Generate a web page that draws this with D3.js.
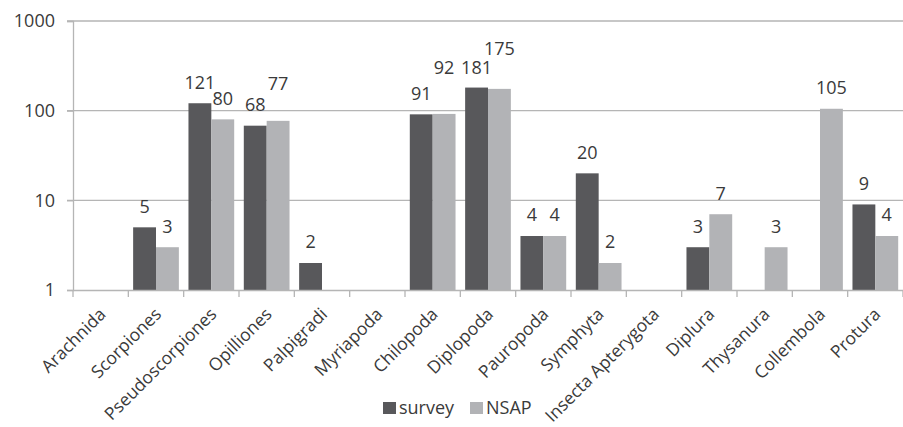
<!DOCTYPE html>
<html><head><meta charset="utf-8">
<script src="https://cdn.jsdelivr.net/npm/d3@7"></script>
<style>
html,body{margin:0;padding:0;background:#fff;}
svg text{font-family:"Open Sans",sans-serif;fill:#3a3a3a;}
</style></head>
<body>
<svg id="c" width="903" height="427"></svg>
<script>
const categories = ["Arachnida","Scorpiones","Pseudoscorpiones","Opilliones","Palpigradi","Myriapoda","Chilopoda","Diplopoda","Pauropoda","Symphyta","Insecta Apterygota","Diplura","Thysanura","Collembola","Protura"];
const survey = [null,5,121,68,2,null,91,181,4,20,null,3,null,null,9];
const nsap   = [null,3,80,77,null,null,92,175,4,2,null,7,3,105,4];
const seriesNames = ["survey","NSAP"];
const yTicks = [1,10,100,1000];

// label lift adjustments (style only, px above default)
const liftSurvey = {"Diplopoda":-1};
const liftNsap = {"Opilliones":16,"Chilopoda":25,"Diplopoda":19};

const svg = d3.select("#c");
const m = {l:73, r:903, t:21, b:290};
const colors = {survey:"#58585b", NSAP:"#b2b3b6"};
const gridCol = "#b5b5b5";

const x = d3.scaleBand().domain(categories).range([m.l, m.r]).paddingInner(0).paddingOuter(0);
const xs = d3.scaleBand().domain(seriesNames).range([0, x.bandwidth()]).paddingInner(0).paddingOuter(0.21);
const y = d3.scaleLog().domain([1,1000]).range([m.b, m.t]);

// gridlines
svg.append("g").selectAll("line").data(yTicks.filter(d=>d>1)).join("line")
  .attr("x1", m.l-6).attr("x2", m.r).attr("y1", d=>y(d)).attr("y2", d=>y(d))
  .attr("stroke", gridCol).attr("stroke-width",1.3);

// y axis
const yAxis = d3.axisLeft(y).tickValues(yTicks).tickFormat(d3.format("d")).tickSize(6).tickPadding(12);
const ga = svg.append("g").attr("transform",`translate(${m.l},0)`).call(yAxis);
ga.select(".domain").attr("stroke",gridCol).attr("stroke-width",1.3);
ga.selectAll(".tick line").attr("stroke",gridCol).attr("stroke-width",1.3);
ga.selectAll(".tick text").style("font-size","18px").attr("fill","#3a3a3a");

// bars
const rows = categories.map((c,i)=>({c, vals:[{s:"survey",v:survey[i]},{s:"NSAP",v:nsap[i]}]}));
const g = svg.append("g");
const grp = g.selectAll("g").data(rows).join("g").attr("transform",d=>`translate(${x(d.c)},0)`);
grp.selectAll("rect").data(d=>d.vals.filter(v=>v.v!=null)).join("rect")
  .attr("x",d=>xs(d.s)).attr("width",xs.bandwidth())
  .attr("y",d=>y(d.v)).attr("height",d=>y(1)-y(d.v))
  .attr("fill",d=>colors[d.s]);

// x axis
const xAxis = d3.axisBottom(x).tickSize(0).tickFormat("");
const gx = svg.append("g").attr("transform",`translate(0,${m.b})`).call(xAxis);
gx.select(".domain").attr("stroke",gridCol).attr("stroke-width",1.3);
// boundary ticks
svg.append("g").selectAll("line").data(d3.range(categories.length+1)).join("line")
  .attr("x1",i=>m.l+i*x.step()).attr("x2",i=>m.l+i*x.step())
  .attr("y1",m.b).attr("y2",m.b+7).attr("stroke",gridCol).attr("stroke-width",1.3);

// category labels
svg.append("g").selectAll("text").data(categories).join("text")
  .attr("transform",d=>`translate(${x(d)+x.bandwidth()/2+2},${m.b+21}) rotate(-45)`)
  .attr("text-anchor","end").attr("dy","0.35em")
  .style("font-size","17.5px").text(d=>d);

// data labels
grp.selectAll("text.v").data(d=>d.vals.filter(v=>v.v!=null).map(v=>({...v,c:d.c}))).join("text")
  .attr("class","v")
  .attr("x",d=>xs(d.s)+xs.bandwidth()/2)
  .attr("y",d=>y(d.v)-21-((d.s==="survey"?liftSurvey:liftNsap)[d.c]||0))
  .attr("dy","0.35em").attr("text-anchor","middle")
  .style("font-size","18px").text(d=>d.v);

// legend
const lg = svg.append("g").attr("transform","translate(383,408)");
const li = lg.selectAll("g").data(seriesNames).join("g").attr("transform",(d,i)=>`translate(${i*87},0)`);
li.append("rect").attr("x",0).attr("y",-6).attr("width",13).attr("height",12).attr("fill",d=>colors[d]);
li.append("text").attr("x",16).attr("dy","0.35em").style("font-size","18px").text(d=>d);
</script>
</body></html>
